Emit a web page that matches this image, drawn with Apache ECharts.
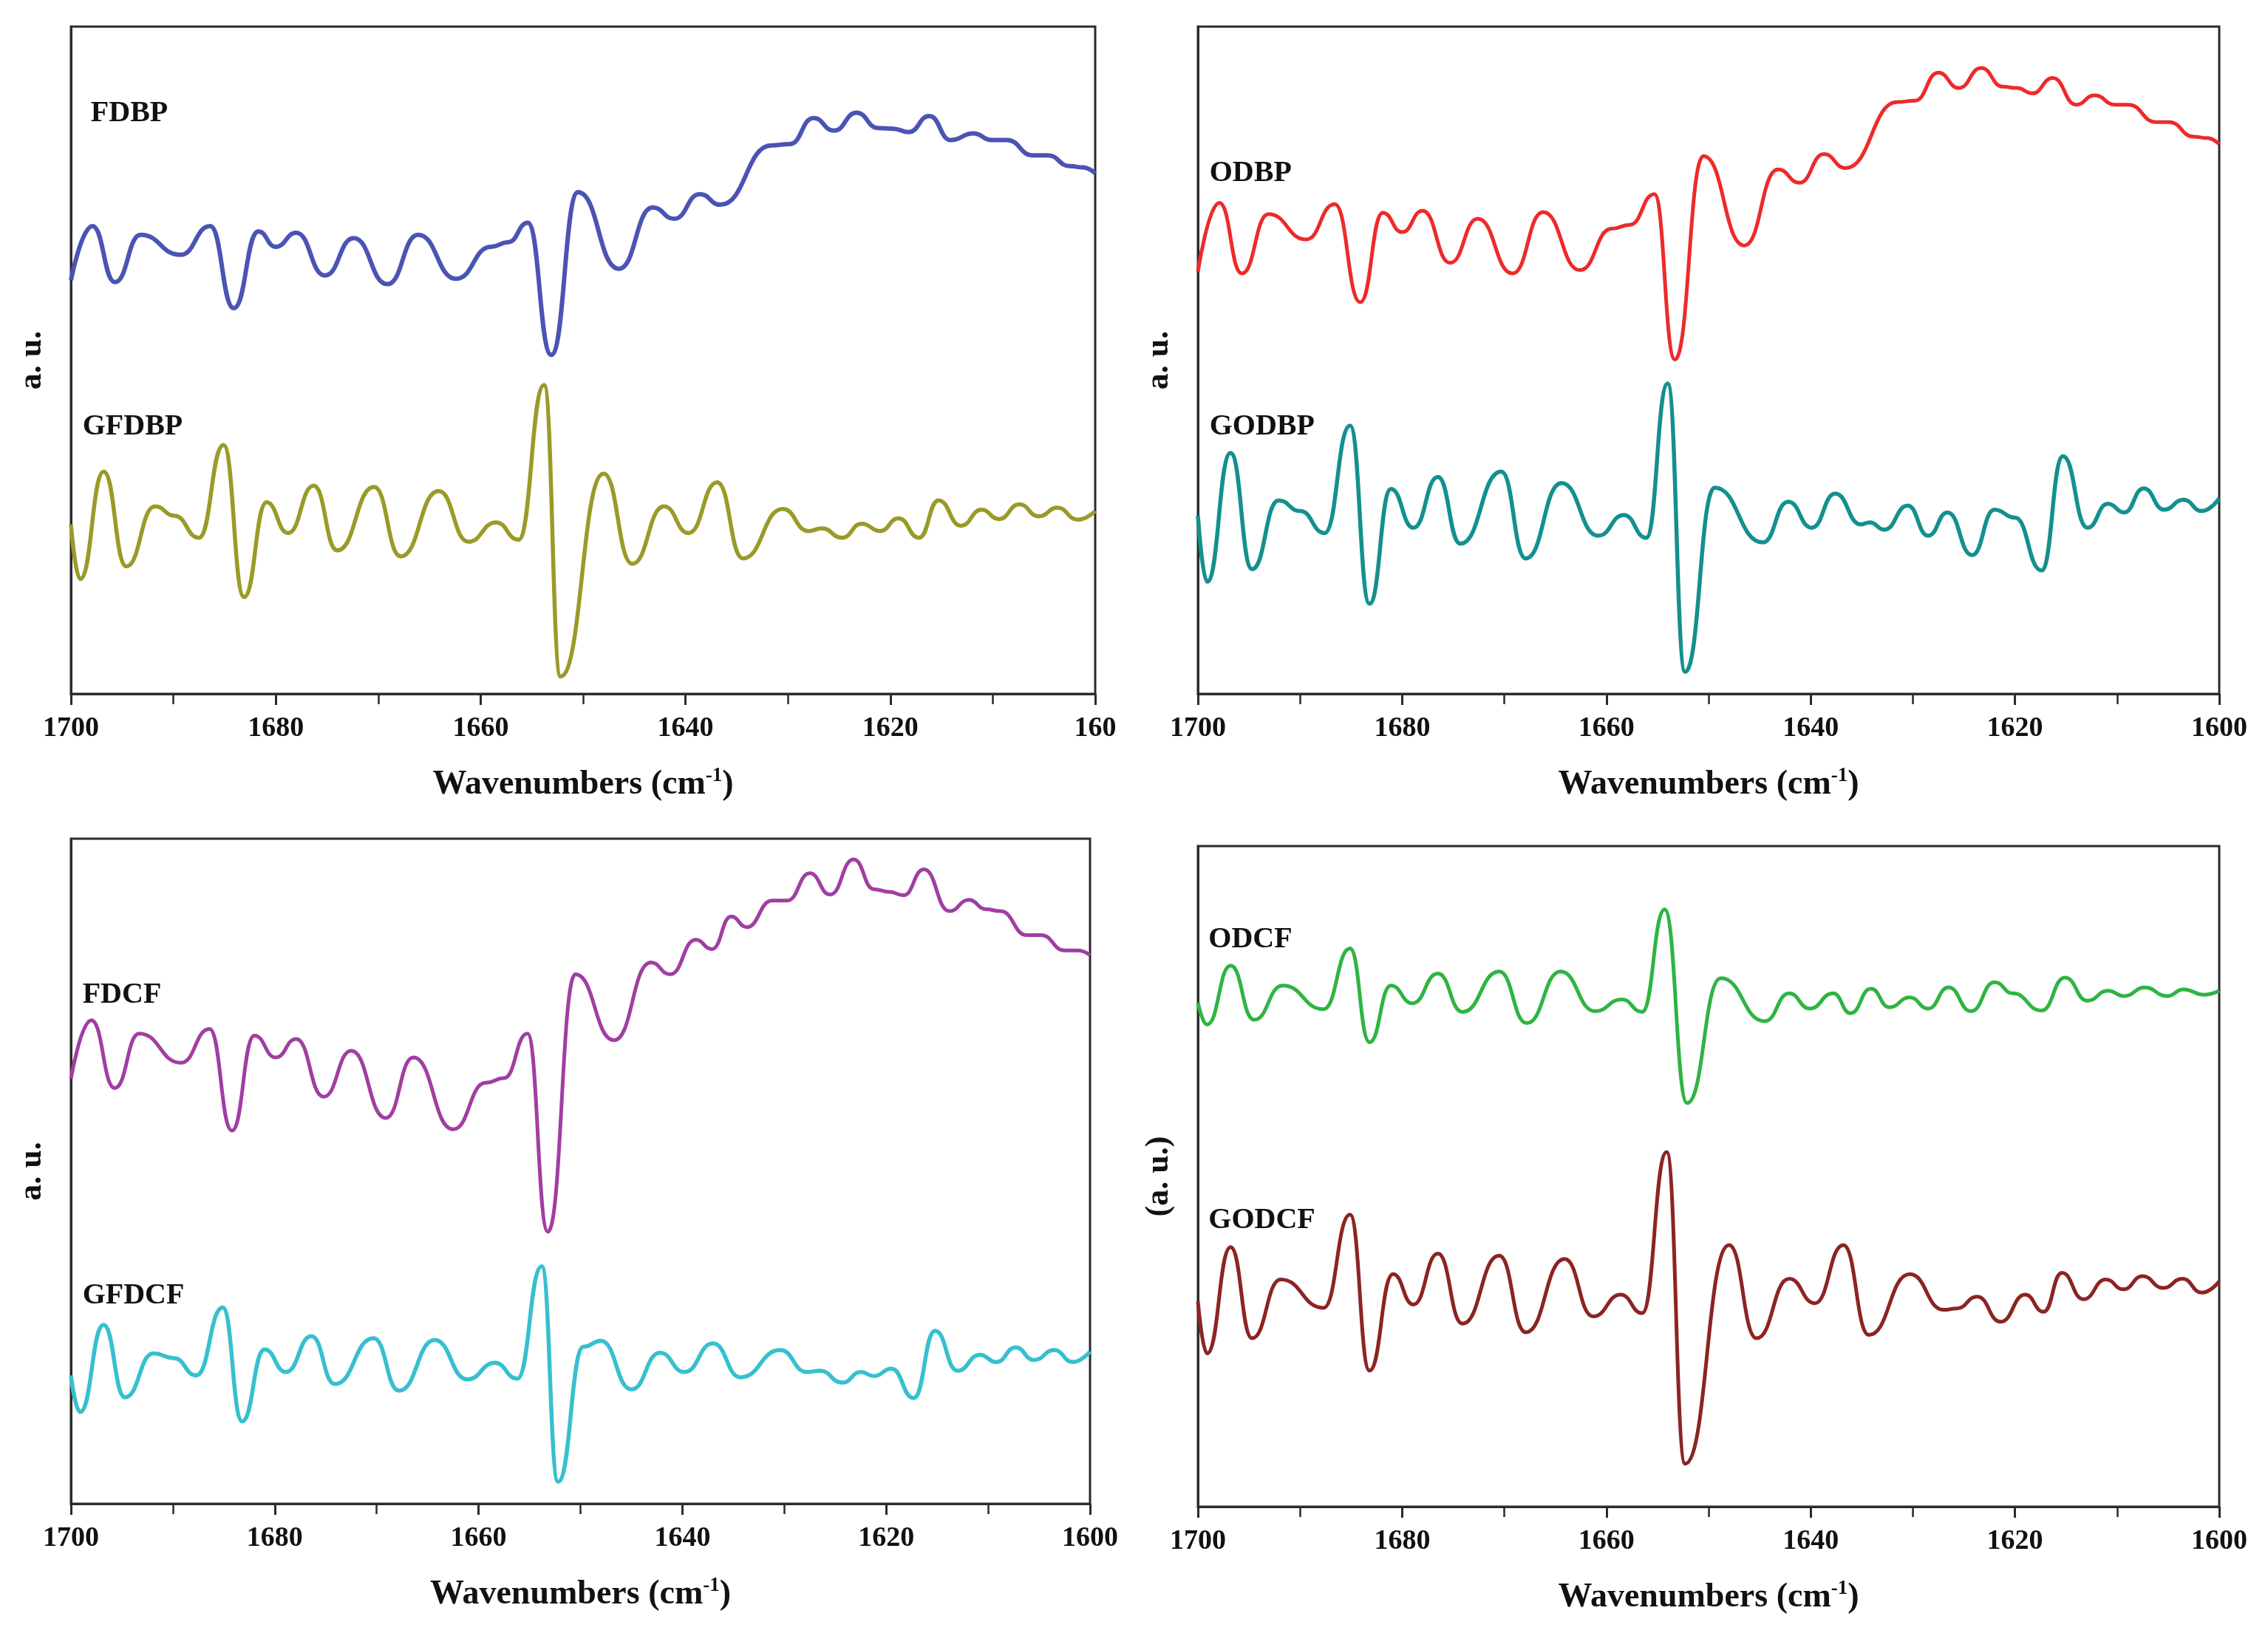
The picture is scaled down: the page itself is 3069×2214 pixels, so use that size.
<!DOCTYPE html>
<html><head><meta charset="utf-8">
<script src="https://cdn.jsdelivr.net/npm/echarts@6/dist/echarts.min.js"></script>
<style>html,body{margin:0;padding:0;background:#fff}#c{width:3069px;height:2214px}</style>
</head><body><div id="c"></div>
<script>
// ---- data: [wavenumber (cm-1), intensity (a.u., offset stacked)] ----
const FDBP = [[1700,62.0],[1697.9,70.1],[1695.7,61.7],[1693.2,68.8],[1689.3,65.8],[1686.4,70.1],[1684.1,57.8],[1681.7,69.3],[1680.0,67.0],[1678.0,69.1],[1675.2,62.7],[1672.4,68.3],[1669.1,61.4],[1666.1,68.8],[1662.4,62.2],[1659.0,67.0],[1657.3,67.7],[1655.4,70.6],[1653.1,50.8],[1650.5,75.2],[1646.5,63.7],[1643.2,72.9],[1641.1,71.2],[1638.6,74.9],[1636.6,73.3],[1631.6,82.2],[1629.8,82.4],[1627.5,86.3],[1625.5,84.4],[1623.3,87.1],[1621.2,84.8],[1619.7,84.7],[1618.2,84.2],[1616.2,86.6],[1614.1,83.0],[1611.9,84.0],[1610.1,83.0],[1608.6,83.0],[1606.1,80.7],[1604.6,80.7],[1602.5,79.1],[1601.2,78.9],[1600,78.0]];
const GFDBP = [[1700,25.4],[1699.1,17.2],[1696.8,33.3],[1694.6,19.1],[1691.8,28.1],[1689.9,26.7],[1687.5,23.4],[1685.1,37.3],[1683.1,14.5],[1680.9,28.7],[1678.8,24.1],[1676.3,31.2],[1674.0,21.5],[1670.4,31.0],[1667.8,20.6],[1664.1,30.4],[1661.2,22.8],[1658.5,25.7],[1656.3,23.1],[1653.8,46.3],[1652.2,2.6],[1648.0,33.0],[1645.2,19.5],[1642.1,28.1],[1639.7,24.1],[1636.9,31.7],[1634.4,20.3],[1630.5,27.7],[1628.0,24.4],[1626.7,24.8],[1624.7,23.4],[1622.8,25.5],[1621.0,24.4],[1619.2,26.3],[1617.2,23.4],[1615.3,29.0],[1613.1,25.2],[1611.1,27.6],[1609.4,26.2],[1607.4,28.4],[1605.5,26.6],[1603.7,27.9],[1601.7,26.1],[1600,27.4]];
const ODBP = [[1700,63.3],[1697.9,73.6],[1695.7,63.0],[1693.1,71.9],[1689.4,68.1],[1686.6,73.4],[1684.1,58.7],[1681.9,72.1],[1680.0,69.2],[1678.0,72.4],[1675.3,64.6],[1672.6,71.2],[1669.2,63.0],[1666.2,72.2],[1662.6,63.5],[1659.5,69.7],[1657.7,70.3],[1655.3,74.9],[1653.3,50.1],[1650.5,80.6],[1646.5,67.2],[1643.2,78.6],[1641.1,76.6],[1638.7,80.9],[1636.6,78.8],[1631.5,88.7],[1629.8,88.9],[1627.5,93.1],[1625.5,90.8],[1623.3,93.8],[1621.2,91.0],[1619.8,90.8],[1618.3,90.0],[1616.3,92.3],[1614.0,88.3],[1612.2,89.7],[1610.2,88.3],[1608.9,88.3],[1606.2,85.7],[1604.9,85.7],[1602.5,83.5],[1601.2,83.3],[1600,82.4]];
const GODBP = [[1700,26.7],[1699.1,16.8],[1696.8,36.1],[1694.7,18.7],[1692.1,29.0],[1690.0,27.4],[1687.6,24.1],[1685.1,40.2],[1683.2,13.5],[1681.1,30.7],[1678.9,24.9],[1676.5,32.5],[1674.3,22.5],[1670.3,33.3],[1667.9,20.3],[1664.4,31.6],[1660.8,23.7],[1658.3,26.8],[1656.1,23.4],[1654.0,46.5],[1652.3,3.3],[1649.4,30.9],[1644.7,22.7],[1642.2,28.8],[1639.9,24.9],[1637.6,30.0],[1635.1,25.4],[1634.2,25.7],[1632.8,24.6],[1630.5,28.2],[1628.5,23.7],[1626.6,27.2],[1624.2,20.8],[1622.0,27.6],[1620.0,26.4],[1617.4,18.5],[1615.3,35.6],[1612.9,24.9],[1610.9,28.5],[1609.3,27.2],[1607.4,30.8],[1605.4,27.6],[1603.5,29.1],[1601.7,27.4],[1600,29.3]];
const FDCF = [[1700,63.9],[1698.0,72.7],[1695.7,62.5],[1693.3,70.7],[1689.2,66.3],[1686.4,71.4],[1684.2,56.1],[1682.0,70.4],[1679.9,67.1],[1677.9,69.9],[1675.2,61.2],[1672.5,68.1],[1669.1,58.0],[1666.4,67.1],[1662.5,56.3],[1659.3,63.3],[1657.5,64.0],[1655.2,70.7],[1653.2,40.9],[1650.5,79.6],[1646.7,69.7],[1643.1,81.4],[1641.2,79.6],[1638.7,84.8],[1637.1,83.4],[1635.2,88.3],[1633.7,86.7],[1631.2,90.7],[1629.7,90.7],[1627.5,94.8],[1625.5,91.6],[1623.2,96.9],[1621.2,92.4],[1619.7,92.0],[1618.3,91.5],[1616.3,95.4],[1613.8,89.1],[1611.9,90.8],[1610.2,89.4],[1608.8,89.1],[1606.2,85.5],[1604.8,85.5],[1602.5,83.2],[1601.2,83.2],[1600,82.5]];
const GFDCF = [[1700,19.3],[1699.1,13.8],[1696.8,26.9],[1694.7,16.0],[1691.9,22.6],[1689.9,21.9],[1687.7,19.3],[1685.1,29.5],[1683.2,12.4],[1681.0,23.2],[1678.9,19.8],[1676.4,25.2],[1674.1,18.0],[1670.3,24.9],[1667.8,17.0],[1664.3,24.6],[1661.1,18.7],[1658.4,21.2],[1656.2,18.8],[1653.8,35.7],[1652.2,3.3],[1649.7,23.6],[1648.0,24.5],[1645.0,17.2],[1642.2,22.7],[1639.8,19.8],[1637.0,24.1],[1634.3,19.0],[1630.4,23.1],[1627.8,19.8],[1626.5,20.0],[1624.3,18.2],[1622.5,19.8],[1621.2,19.2],[1619.5,20.3],[1617.3,15.9],[1615.2,26.0],[1613.0,20.0],[1610.8,22.4],[1609.2,21.3],[1607.3,23.5],[1605.5,21.6],[1603.5,23.1],[1601.7,21.3],[1600,22.9]];
const ODCF = [[1700,76.3],[1699.1,73.0],[1696.8,81.9],[1694.5,73.7],[1691.7,78.9],[1687.7,75.3],[1685.1,84.5],[1683.2,70.3],[1681.1,78.9],[1679.0,76.2],[1676.5,80.7],[1674.1,74.9],[1670.5,81.0],[1667.8,73.2],[1664.5,81.0],[1661.1,75.0],[1658.5,76.8],[1656.5,74.9],[1654.3,90.4],[1652.1,61.1],[1648.8,80.0],[1644.5,73.5],[1642.1,77.7],[1640.1,75.4],[1637.8,77.7],[1636.1,74.7],[1634.1,78.4],[1632.3,75.6],[1630.3,77.1],[1628.5,75.4],[1626.5,78.6],[1624.3,75.0],[1622.0,79.4],[1620.2,77.7],[1617.4,75.1],[1615.1,80.1],[1612.9,76.6],[1610.9,78.1],[1609.3,77.3],[1607.3,78.6],[1605.1,77.3],[1603.5,78.3],[1601.5,77.5],[1600,78.1]];
const GODCF = [[1700,31.1],[1699.1,23.2],[1696.8,39.3],[1694.7,25.5],[1691.9,34.4],[1687.7,30.1],[1685.1,44.2],[1683.2,20.6],[1680.9,35.2],[1678.9,30.6],[1676.5,38.3],[1674.1,27.7],[1670.5,38.0],[1667.9,26.4],[1664.1,37.5],[1661.3,28.8],[1658.6,32.1],[1656.5,29.3],[1654.1,53.7],[1652.3,6.5],[1648.0,39.6],[1645.3,25.5],[1642.1,34.5],[1639.6,30.8],[1636.8,39.6],[1634.3,26.0],[1630.3,35.2],[1627.0,29.8],[1625.7,30.0],[1623.7,31.8],[1621.4,28.0],[1619.0,32.1],[1617.2,29.5],[1615.4,35.4],[1613.3,31.4],[1611.1,34.4],[1609.4,32.9],[1607.5,34.9],[1605.5,33.1],[1603.6,34.5],[1601.7,32.4],[1600,34.1]];

const xMin = 1600, xMax = 1700, xStep = 20;
const yNames = ['a. u.', 'a. u.', 'a. u.', '(a. u.)'];
const seriesNames = ['FDBP','GFDBP','ODBP','GODBP','FDCF','GFDCF','ODCF','GODCF'];

// ---- layout / style (not data) ----
const grids = [
  {left: 96,   top: 36,   width: 1386, height: 903},
  {left: 1621, top: 36,   width: 1382, height: 903},
  {left: 96,   top: 1135, width: 1379, height: 900},
  {left: 1621, top: 1145, width: 1382, height: 894}
];
const labelAnchors = [[1698.1,87.0],[1698.9,40.0],[1698.9,78.0],[1698.9,40.0],[1698.9,76.5],[1698.9,31.3],[1699.0,85.8],[1699.0,43.3]];
const colors = ['#4b54b3','#9a9a28','#ee2a2a','#13908f','#a03ea3','#36c0cf','#2fb443','#8c2424'];
const widths = [6, 5.5, 5, 5.5, 5, 5.5, 5, 5];
const serif = '"Liberation Serif", "Times New Roman", serif';
const axisColor = '#2b2b2b';

const chart = echarts.init(document.getElementById('c'), null, {renderer: 'canvas'});

const xAxes = grids.map((g, i) => ({
  gridIndex: i, type: 'value', min: xMin, max: xMax, interval: xStep, inverse: true,
  axisLine: {show: true, lineStyle: {color: axisColor, width: 3}},
  axisTick: {show: true, inside: false, length: 15, lineStyle: {color: axisColor, width: 3}},
  minorTick: {show: true, splitNumber: 2, length: 14, lineStyle: {color: axisColor, width: 2.5}},
  splitLine: {show: false}, minorSplitLine: {show: false},
  axisLabel: {
    margin: 28, color: '#111', fontFamily: serif, fontWeight: 'bold', fontSize: 38,
    formatter: v => (i === 0 && v === xMin) ? String(v).slice(0, 3) : String(v)
  },
  name: '{t|Wavenumbers (cm}{s|-1}{t|)}', nameLocation: 'middle', nameGap: 98,
  nameTextStyle: {
    rich: {
      t: {fontFamily: serif, fontWeight: 'bold', fontSize: 46, color: '#111', lineHeight: 50},
      s: {fontFamily: serif, fontWeight: 'bold', fontSize: 27, color: '#111', verticalAlign: 'top', lineHeight: 50}
    }
  }
}));

const yAxes = grids.map((g, i) => ({
  gridIndex: i, type: 'value', min: 0, max: 100,
  axisLine: {show: true, lineStyle: {color: axisColor, width: 3}},
  axisTick: {show: false}, axisLabel: {show: false}, splitLine: {show: false},
  name: yNames[i], nameLocation: 'middle', nameRotate: 90, nameGap: 30,
  nameTextStyle: {fontFamily: serif, fontWeight: 'bold', fontSize: 44, color: '#111'}
}));

const allData = [FDBP, GFDBP, ODBP, GODBP, FDCF, GFDCF, ODCF, GODCF];
const series = allData.map((d, k) => {
  const panel = Math.floor(k / 2);
  return {
    type: 'line', name: seriesNames[k], xAxisIndex: panel, yAxisIndex: panel,
    data: d, smooth: 0.5, smoothMonotone: 'x', symbol: 'none', showSymbol: false,
    lineStyle: {color: colors[k], width: widths[k]}, silent: true,
    markPoint: {
      symbol: 'circle', symbolSize: 1, itemStyle: {color: 'rgba(0,0,0,0)'}, silent: true,
      label: {show: true, position: 'right', distance: 0, formatter: seriesNames[k],
        color: '#111', fontFamily: serif, fontWeight: 'bold', fontSize: 40},
      data: [{coord: labelAnchors[k], name: seriesNames[k]}]
    }
  };
});

chart.setOption({
  animation: false,
  backgroundColor: '#ffffff',
  grid: grids.map(g => Object.assign({show: true, borderColor: axisColor, borderWidth: 3, backgroundColor: 'transparent', containLabel: false}, g)),
  xAxis: xAxes,
  yAxis: yAxes,
  series: series
});
</script>
</body></html>
